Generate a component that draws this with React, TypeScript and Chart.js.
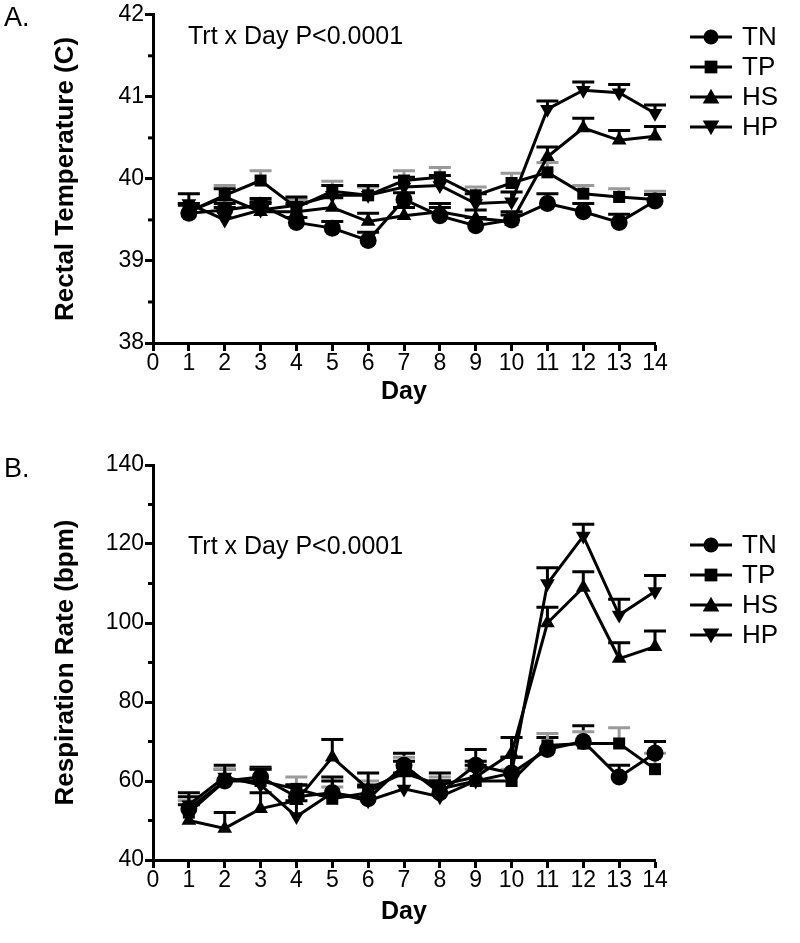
import React, { useEffect, useRef } from "react";
import { Chart, registerables } from "chart.js";
Chart.register(...registerables);

// ---------- data ----------
const days = [1, 2, 3, 4, 5, 6, 7, 8, 9, 10, 11, 12, 13, 14];
const seriesNames = ["TN", "TP", "HS", "HP"];

// Panel A: rectal temperature (C)
const tempTN = [39.58, 39.62, 39.68, 39.47, 39.4, 39.25, 39.75, 39.55, 39.43, 39.5, 39.7, 39.6, 39.47, 39.73];
const tempTP = [39.6, 39.8, 39.98, 39.65, 39.85, 39.8, 39.98, 40.02, 39.8, 39.95, 40.08, 39.82, 39.78, 39.75];
const tempHS = [39.6, 39.78, 39.6, 39.6, 39.65, 39.48, 39.55, 39.6, 39.52, 39.48, 40.27, 40.62, 40.47, 40.52];
const tempHP = [39.7, 39.5, 39.62, 39.68, 39.8, 39.8, 39.9, 39.92, 39.7, 39.72, 40.85, 41.08, 41.05, 40.8];
const tempTNErr = [0.1, 0.08, 0.08, 0.06, 0.08, 0.1, 0.08, 0.1, 0.1, 0.1, 0.12, 0.1, 0.1, 0.08];
const tempTPErr = [0.1, 0.12, 0.12, 0.1, 0.12, 0.1, 0.12, 0.12, 0.1, 0.12, 0.12, 0.1, 0.1, 0.1];
const tempHSErr = [0.1, 0.1, 0.1, 0.1, 0.12, 0.1, 0.1, 0.1, 0.1, 0.08, 0.12, 0.12, 0.12, 0.12];
const tempHPErr = [0.12, 0.15, 0.1, 0.1, 0.12, 0.12, 0.12, 0.12, 0.12, 0.12, 0.1, 0.1, 0.1, 0.1];

// Panel B: respiration rate (bpm)
const respTN = [53, 60, 61, 56, 57, 55.5, 64, 57, 64, 62, 68, 70, 61, 67];
const respTP = [52, 60, 60, 58, 55.5, 57, 63, 58, 60, 60, 69, 69.5, 69.5, 63];
const respHS = [50, 48, 53, 55, 66, 58, 62, 59, 61, 67, 100, 109, 91, 94];
const respHP = [54, 61, 59, 51, 57, 55, 58, 56, 60, 62, 110, 122, 102, 108];
const respTNErr = [3, 3, 2.5, 3, 3, 3, 3, 3, 4, 4, 3, 4, 3, 3];
const respTPErr = [3, 3, 3, 3, 3, 3, 3, 3, 3, 3, 3, 3, 4, 4];
const respHSErr = [4, 4, 4, 4, 4.5, 4, 3, 3, 4, 4, 4, 4, 4, 4];
const respHPErr = [3, 3, 4, 4, 4, 4, 4, 4, 4, 4, 4, 3, 4, 4];

const tempMinorTicks = [38.5, 39.5, 40.5, 41.5];
const respMinorTicks = [50, 70, 90, 110, 130];

// ---------- styling ----------
const FONT = "'Liberation Sans', Arial, sans-serif";
const pointStyles = ["circle", "rect", "triangle", "triangle"];
const pointRotations = [0, 0, 0, 180];
const errColors = ["#000000", "#9a9a9a", "#000000", "#000000"];

function drawMarker(ctx, style, rot, x, y, r) {
  ctx.beginPath();
  if (style === "circle") {
    ctx.arc(x, y, r, 0, Math.PI * 2);
  } else if (style === "rect") {
    const s = r * 0.85;
    ctx.rect(x - s, y - s, 2 * s, 2 * s);
  } else {
    const h = r * 1.1;
    const dir = rot === 180 ? -1 : 1;
    ctx.moveTo(x, y - dir * h);
    ctx.lineTo(x + h, y + dir * h * 0.8);
    ctx.lineTo(x - h, y + dir * h * 0.8);
    ctx.closePath();
  }
  ctx.fill();
}

const errorBarPlugin = {
  id: "errorBars",
  beforeDatasetsDraw(chart, _args, opts) {
    const { ctx } = chart;
    const xs = chart.scales.x;
    const ys = chart.scales.y;
    chart.data.datasets.forEach((ds, i) => {
      const errs = opts.errors[i];
      ctx.save();
      ctx.strokeStyle = opts.colors[i];
      ctx.lineWidth = 3;
      ds.data.forEach((p, j) => {
        const x = xs.getPixelForValue(p.x);
        const y0 = ys.getPixelForValue(p.y);
        const y1 = ys.getPixelForValue(p.y + errs[j]);
        ctx.beginPath();
        ctx.moveTo(x, y0);
        ctx.lineTo(x, y1);
        ctx.moveTo(x - 11, y1);
        ctx.lineTo(x + 11, y1);
        ctx.stroke();
      });
      ctx.restore();
    });
  },
};

const decorPlugin = {
  id: "decor",
  afterDraw(chart, _args, opts) {
    const { ctx } = chart;
    const ys = chart.scales.y;
    ctx.save();
    // minor ticks
    ctx.strokeStyle = "#000";
    ctx.lineWidth = 3;
    opts.minor.forEach((v) => {
      const y = ys.getPixelForValue(v);
      ctx.beginPath();
      ctx.moveTo(ys.right, y);
      ctx.lineTo(ys.right - 5, y);
      ctx.stroke();
    });
    // panel letter
    ctx.fillStyle = "#000";
    ctx.textBaseline = "middle";
    ctx.textAlign = "left";
    ctx.font = `27px ${FONT}`;
    ctx.fillText(opts.letter, opts.letterX, opts.letterY);
    // annotation
    ctx.font = `25px ${FONT}`;
    ctx.fillText(opts.note, opts.noteX, opts.noteY);
    // legend
    ctx.font = `26px ${FONT}`;
    chart.data.datasets.forEach((ds, i) => {
      const y = opts.legY + i * opts.legDy;
      ctx.strokeStyle = "#000";
      ctx.lineWidth = 3;
      ctx.beginPath();
      ctx.moveTo(opts.legX, y);
      ctx.lineTo(opts.legX + 42, y);
      ctx.stroke();
      ctx.fillStyle = "#000";
      drawMarker(ctx, pointStyles[i], pointRotations[i], opts.legX + 21, y, 7.5);
      ctx.fillText(ds.label, opts.legX + 52, y + 1);
    });
    ctx.restore();
  },
};

function buildConfig(p) {
  const datasets = p.series.map((vals, i) => ({
    label: seriesNames[i],
    data: days.map((d, j) => ({ x: d, y: vals[j] })),
    borderColor: "#000",
    backgroundColor: "#000",
    borderWidth: 3,
    pointStyle: pointStyles[i],
    rotation: pointRotations[i],
    pointRadius: 8.5,
    pointBorderWidth: 0,
    pointBackgroundColor: "#000",
    tension: 0,
    clip: false,
  }));
  const axisCommon = {
    border: { display: true, color: "#000", width: 3 },
    grid: {
      display: true,
      drawOnChartArea: false,
      drawTicks: true,
      tickLength: 8,
      tickWidth: 3,
      tickColor: "#000",
    },
  };
  return {
    type: "line",
    data: { datasets },
    plugins: [errorBarPlugin, decorPlugin],
    options: {
      animation: false,
      responsive: false,
      maintainAspectRatio: false,
      layout: { padding: p.padding },
      plugins: {
        legend: { display: false },
        tooltip: { enabled: false },
        errorBars: { errors: p.errors, colors: errColors },
        decor: p.decor,
      },
      scales: {
        x: {
          type: "linear",
          min: 0,
          max: 14,
          ...axisCommon,
          ticks: {
            stepSize: 1,
            autoSkip: false,
            maxRotation: 0,
            padding: -1,
            color: "#000",
            font: { family: FONT, size: 23 },
          },
          title: {
            display: true,
            text: "Day",
            color: "#000",
            padding: 0,
            font: { family: FONT, size: 25, weight: "bold" },
          },
          afterFit: (s) => {
            s.height = p.xAxisHeight;
          },
        },
        y: {
          type: "linear",
          min: p.yMin,
          max: p.yMax,
          ...axisCommon,
          ticks: {
            stepSize: p.yStep,
            padding: 1,
            color: "#000",
            font: { family: FONT, size: 23 },
          },
          title: {
            display: true,
            text: p.yTitle,
            color: "#000",
            padding: 0,
            font: { family: FONT, size: 26, weight: "bold" },
          },
          afterFit: (s) => {
            s.width = p.yAxisWidth;
          },
        },
      },
    },
  };
}

function Panel({ top, height, cfg }) {
  const ref = useRef(null);
  useEffect(() => {
    const chart = new Chart(ref.current, buildConfig(cfg));
    return () => chart.destroy();
  }, []);
  return (
    <div style={{ position: "absolute", left: 0, top, width: 800, height }}>
      <canvas ref={ref} width={800} height={height} style={{ width: 800, height }} />
    </div>
  );
}

const panelA = {
  series: [tempTN, tempTP, tempHS, tempHP],
  errors: [tempTNErr, tempTPErr, tempHSErr, tempHPErr],
  yMin: 38,
  yMax: 42,
  yStep: 1,
  yTitle: "Rectal Temperature (C)",
  padding: { left: 50, right: 145, top: 8, bottom: 13 },
  yAxisWidth: 103,
  xAxisHeight: 64,
  decor: {
    minor: tempMinorTicks,
    letter: "A.",
    letterX: 4,
    letterY: 19,
    note: "Trt x Day P<0.0001",
    noteX: 188,
    noteY: 37,
    legX: 690,
    legY: 37,
    legDy: 30,
  },
};

const panelB = {
  series: [respTN, respTP, respHS, respHP],
  errors: [respTNErr, respTPErr, respHSErr, respHPErr],
  yMin: 40,
  yMax: 140,
  yStep: 20,
  yTitle: "Respiration Rate (bpm)",
  padding: { left: 50, right: 145, top: 25, bottom: 16 },
  yAxisWidth: 103,
  xAxisHeight: 67,
  decor: {
    minor: respMinorTicks,
    letter: "B.",
    letterX: 4,
    letterY: 30,
    note: "Trt x Day P<0.0001",
    noteX: 188,
    noteY: 107,
    legX: 690,
    legY: 105,
    legDy: 30,
  },
};

export default function App() {
  return (
    <div style={{ position: "absolute", left: 0, top: 0, width: 800, height: 943, background: "#fff" }}>
      <Panel top={0} height={420} cfg={panelA} />
      <Panel top={440} height={503} cfg={panelB} />
    </div>
  );
}
